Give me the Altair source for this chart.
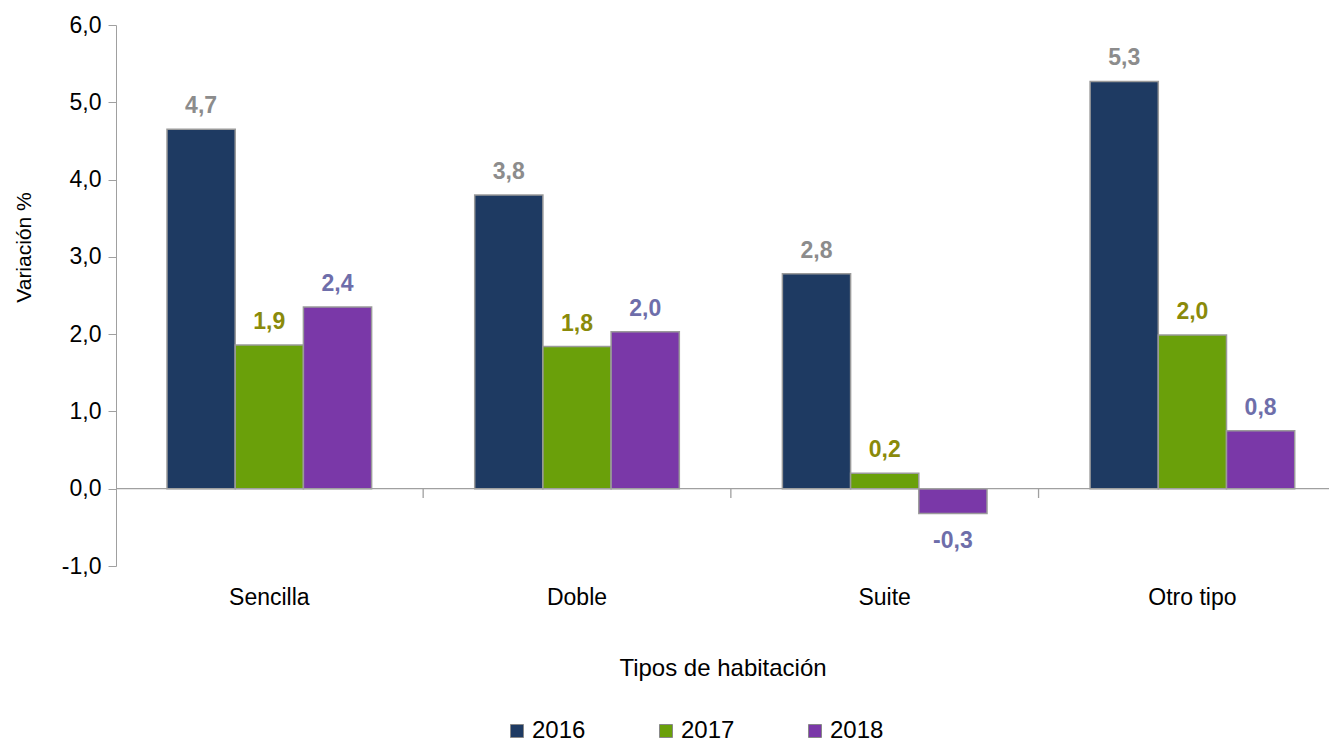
import altair as alt
import pandas as pd

categories = ["Sencilla", "Doble", "Suite", "Otro tipo"]
years = ["2016", "2017", "2018"]
v2016 = [4.65, 3.80, 2.78, 5.27]
v2017 = [1.86, 1.84, 0.20, 1.99]
v2018 = [2.35, 2.03, -0.32, 0.75]
bar_colors = ["#1E3A62", "#6AA00A", "#7A38A8"]
label_colors = ["#8C8C8C", "#8A8A0A", "#6E6EAA"]
# category separators sit half-way between categories (in category-index units)
separators = [0.5, 1.5, 2.5]

rows = []
for i, c in enumerate(categories):
    for y, vals in zip(years, [v2016, v2017, v2018]):
        rows.append({"cat": c, "year": y, "value": vals[i]})
df = pd.DataFrame(rows)

FONT = "Liberation Sans"
W, H = 1213, 541
Y_MIN, Y_MAX = -1, 6
P_IN, P_OUT, ALIGN = 0.335, 0.1386, 0.598
N = len(categories)

# replicate the band scale geometry to place separators in category-index units
step = W / (N - P_IN + 2 * P_OUT)
start0 = (W - step * (N - P_IN)) * ALIGN
bw = step * (1 - P_IN)
idx_domain = [-(start0 + bw / 2) / step, (W - start0 - bw / 2) / step]

x_scale = alt.Scale(domain=categories, paddingInner=P_IN, paddingOuter=P_OUT, align=ALIGN)
xo_scale = alt.Scale(domain=years)
y_scale = alt.Scale(domain=[Y_MIN, Y_MAX], nice=False)
fmt = "replace(replace(format(datum.value, '.1f'), '.', ','), '\u2212', '-')"

y_axis = alt.Axis(title="Variación %", values=[-1, 0, 1, 2, 3, 4, 5, 6],
                  labelExpr=fmt,
                  grid=False, domainColor="#A0A0A0", tickColor="#A0A0A0",
                  tickSize=8, labelFontSize=23, labelColor="#000000", labelPadding=7,
                  titleFontSize=21, titleFontWeight="normal", titleColor="#000000",
                  titleX=-92, titleY=222, titleAngle=270, titleAlign="center",
                  titleBaseline="middle", labelFont=FONT, titleFont=FONT)

x_enc = alt.X("cat:N", scale=x_scale,
              axis=alt.Axis(title="Tipos de habitación", labelAngle=0, domain=False,
                            ticks=False, labelFontSize=23, labelColor="#000000",
                            labelPadding=20, titleFontSize=24, titleFontWeight="normal",
                            titleColor="#000000", titlePadding=47, labelFont=FONT, titleFont=FONT))

bars = alt.Chart(df).mark_bar(stroke="#9A9A9A", strokeWidth=1.5).encode(
    x=x_enc,
    xOffset=alt.XOffset("year:N", scale=xo_scale),
    y=alt.Y("value:Q", scale=y_scale, axis=y_axis),
    y2=alt.datum(0),
    color=alt.Color("year:N", sort=years,
                    scale=alt.Scale(domain=years, range=bar_colors),
                    legend=alt.Legend(title=None, orient="none", direction="horizontal",
                                      legendX=389, legendY=694, symbolType="square",
                                      symbolSize=169, symbolStrokeColor="#888888",
                                      symbolStrokeWidth=1, labelFontSize=24,
                                      labelColor="#000000", labelFont=FONT,
                                      columnPadding=68, labelOffset=3, padding=0)),
)

zero = alt.Chart(pd.DataFrame({"z": [0]})).mark_rule(color="#A0A0A0", strokeWidth=1.3).encode(
    y=alt.Y("z:Q", scale=y_scale, axis=y_axis)
)

sep = alt.Chart(pd.DataFrame({"pos": separators, "y0": [0] * 3, "y1": [-0.12] * 3})).mark_rule(
    color="#A0A0A0", strokeWidth=1.3
).encode(
    x=alt.X("pos:Q", scale=alt.Scale(domain=idx_domain, nice=False, zero=False), axis=None),
    y=alt.Y("y0:Q", scale=y_scale, axis=y_axis),
    y2="y1:Q",
)

lab_base = alt.Chart(df).transform_calculate(
    lab=fmt
).encode(
    x=alt.X("cat:N", scale=x_scale, axis=None),
    xOffset=alt.XOffset("year:N", scale=xo_scale),
    y=alt.Y("value:Q", scale=y_scale, axis=y_axis),
    text="lab:N",
    color=alt.Color("year:N", sort=years,
                    scale=alt.Scale(domain=years, range=label_colors), legend=None),
)
pos_labels = lab_base.transform_filter("datum.value >= 0").mark_text(
    fontWeight="bold", fontSize=23, font=FONT, baseline="alphabetic", dy=-16)
neg_labels = lab_base.transform_filter("datum.value < 0").mark_text(
    fontWeight="bold", fontSize=23, font=FONT, baseline="top", dy=17)

chart = alt.layer(bars, zero, sep, pos_labels, neg_labels).resolve_scale(
    color="independent", x="independent"
).properties(
    width=W, height=H,
    background="#FFFFFF",
    autosize=alt.AutoSizeParams(type="none"),
    padding={"left": 108, "top": 17, "right": 0, "bottom": 177},
).configure(font=FONT).configure_view(strokeWidth=0, stroke="transparent")

chart.save("out.html", embed_options={"renderer": "svg", "actions": False})
